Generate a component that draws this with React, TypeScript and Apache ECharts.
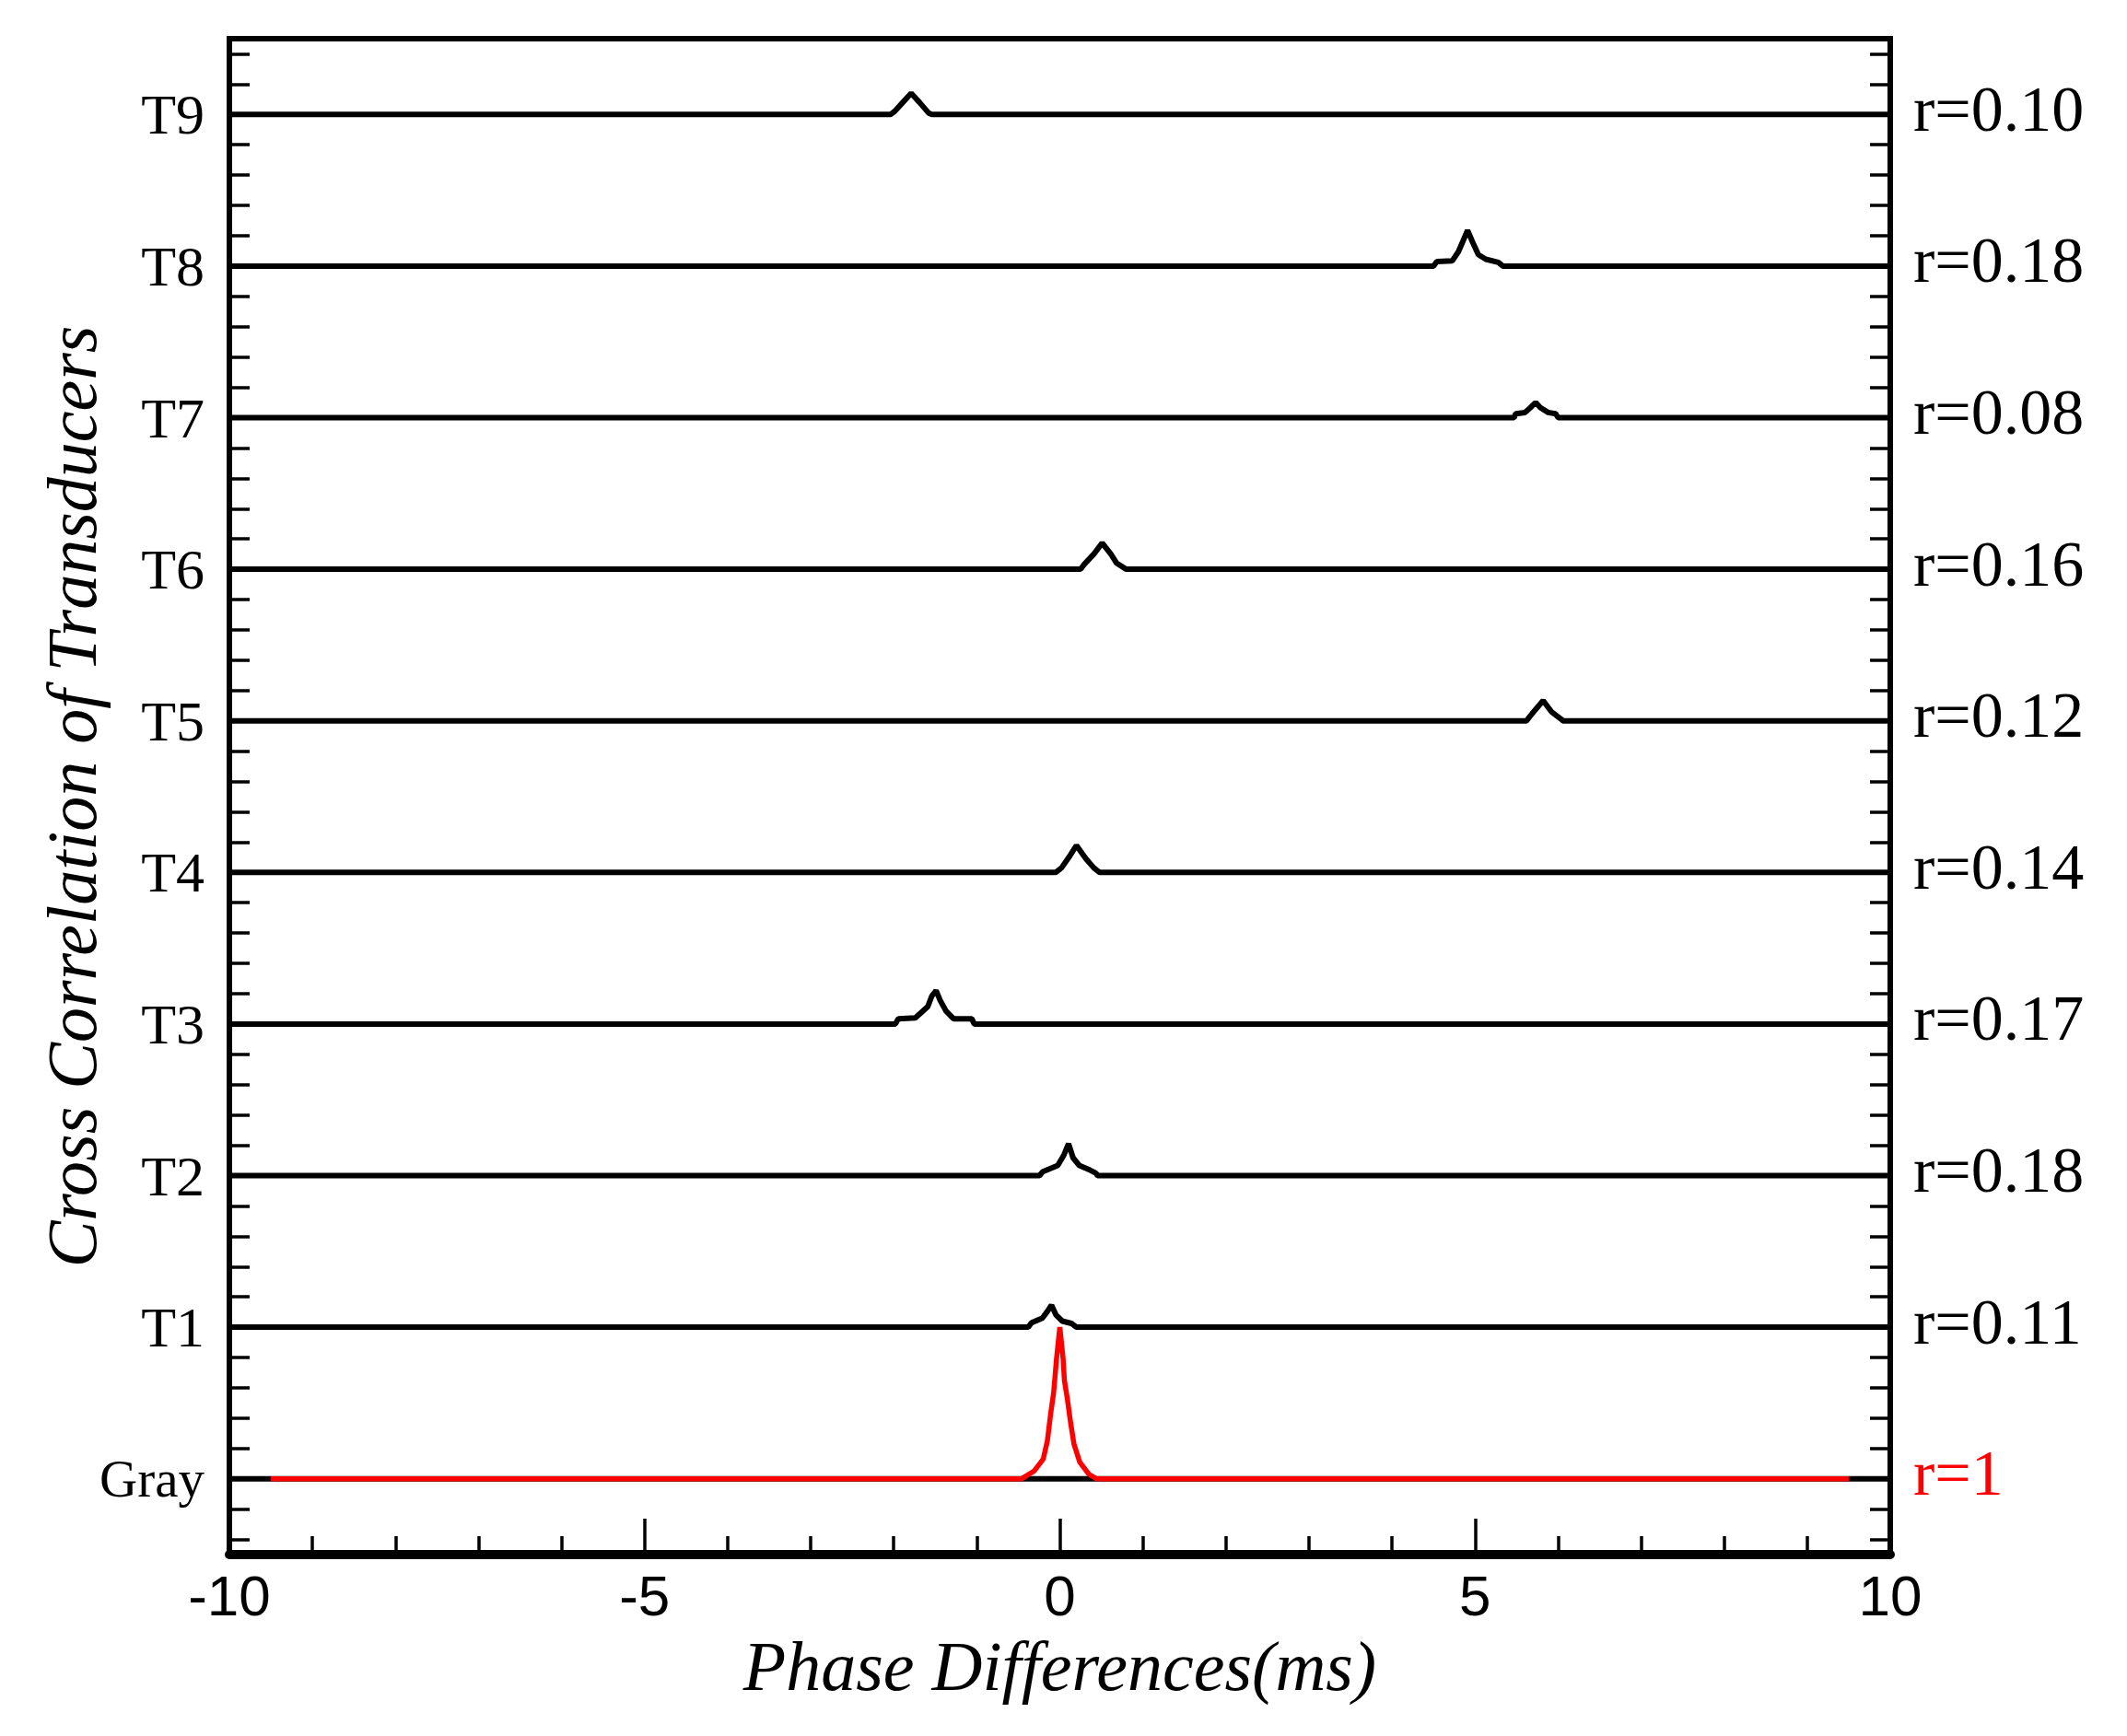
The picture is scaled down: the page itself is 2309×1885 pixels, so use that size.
import React, { useEffect, useRef } from "react";
import * as echarts from "echarts";

// Row names (bottom to top) and correlation labels
const rowLabels = ["Gray", "T1", "T2", "T3", "T4", "T5", "T6", "T7", "T8", "T9"];
const rLabels = ["r=1", "r=0.11", "r=0.18", "r=0.17", "r=0.14", "r=0.12", "r=0.16", "r=0.08", "r=0.18", "r=0.10"];
const xTickLabels = [-10, -5, 0, 5, 10];

// Peak traces: [phase difference (ms), correlation offset above the row baseline]
const grayRed: [number, number][] = [
  [-9.5, 0], [-0.46, 0], [-0.31, 0.05], [-0.2, 0.13], [-0.15, 0.25], [-0.11, 0.43], [-0.074, 0.57],
  [-0.04, 0.79], [0, 1.0], [0.04, 0.79], [0.055, 0.65], [0.09, 0.53], [0.13, 0.37], [0.17, 0.23],
  [0.24, 0.11], [0.35, 0.03], [0.44, 0], [9.5, 0],
];
const grayBase: [number, number][] = [[-10, 0], [10, 0]];
const t1: [number, number][] = [
  [-10, 0], [-0.38, 0], [-0.34, 0.03], [-0.21, 0.06], [-0.155, 0.1], [-0.1, 0.145], [-0.045, 0.08],
  [0.03, 0.04], [0.14, 0.025], [0.2, 0], [10, 0],
];
const t2: [number, number][] = [
  [-10, 0], [-0.245, 0], [-0.205, 0.026], [-0.025, 0.067], [0.05, 0.137], [0.105, 0.21], [0.16, 0.117],
  [0.235, 0.067], [0.365, 0.036], [0.435, 0.016], [0.455, 0], [10, 0],
];
const t3: [number, number][] = [
  [-10, 0], [-1.98, 0], [-1.945, 0.035], [-1.74, 0.04], [-1.59, 0.115], [-1.54, 0.186], [-1.49, 0.22],
  [-1.44, 0.155], [-1.37, 0.085], [-1.28, 0.035], [-1.06, 0.035], [-1.03, 0], [10, 0],
];
const t4: [number, number][] = [
  [-10, 0], [-0.05, 0], [0.02, 0.03], [0.11, 0.1], [0.2, 0.178], [0.315, 0.09], [0.41, 0.03], [0.48, 0], [10, 0],
];
const t5: [number, number][] = [
  [-10, 0], [5.62, 0], [5.69, 0.05], [5.82, 0.133], [5.92, 0.06], [6.04, 0.01], [6.06, 0], [10, 0],
];
const t6: [number, number][] = [
  [-10, 0], [0.25, 0], [0.29, 0.03], [0.41, 0.1], [0.51, 0.173], [0.615, 0.1], [0.685, 0.04], [0.8, 0], [10, 0],
];
const t7: [number, number][] = [
  [-10, 0], [5.47, 0], [5.49, 0.026], [5.6, 0.034], [5.675, 0.07], [5.73, 0.1], [5.785, 0.067],
  [5.88, 0.034], [5.97, 0.026], [6.0, 0], [10, 0],
];
const t8: [number, number][] = [
  [-10, 0], [4.5, 0], [4.54, 0.03], [4.725, 0.034], [4.8, 0.095], [4.855, 0.165], [4.91, 0.236],
  [4.965, 0.165], [5.04, 0.075], [5.13, 0.045], [5.28, 0.024], [5.335, 0], [10, 0],
];
const t9: [number, number][] = [
  [-10, 0], [-2.04, 0], [-1.99, 0.02], [-1.89, 0.08], [-1.79, 0.14], [-1.69, 0.08], [-1.58, 0.01], [-1.54, 0], [10, 0],
];
const blackRows = [grayBase, t1, t2, t3, t4, t5, t6, t7, t8, t9];

const SERIF = "'Liberation Serif', 'Times New Roman', serif";
const SANS = "'Liberation Sans', Arial, sans-serif";

export default function App() {
  const ref = useRef<HTMLDivElement>(null);
  useEffect(() => {
    document.body.style.margin = "0";
    if (!ref.current) return;
    const chart = echarts.init(ref.current, null, { renderer: "svg" });

    const yTicks: number[] = [];
    for (let k = -2; k <= 47; k++) yTicks.push(Math.round(k * 2) / 10);
    const rowValues = rowLabels.map((_, i) => i);

    const series: any[] = blackRows.map((pts, i) => ({
      type: "line",
      name: rowLabels[i],
      data: pts.map(([x, v]) => [x, i + v]),
      symbol: "none",
      lineStyle: { color: "#000", width: 6 },
      z: 3,
    }));
    series.push({
      type: "line",
      name: "Gray-r",
      data: grayRed.map(([x, v]) => [x, v]),
      symbol: "none",
      lineStyle: { color: "#ff0000", width: 5.5 },
      z: 4,
    });

    const option: any = {
      animation: false,
      backgroundColor: "#fff",
      grid: {
        left: 249,
        right: 257,
        top: 42,
        bottom: 197,
        show: true,
        borderColor: "#000",
        borderWidth: 6,
        containLabel: false,
        outerBoundsMode: "none",
      },
      xAxis: {
        type: "value",
        min: -10,
        max: 10,
        interval: 5,
        position: "bottom",
        splitLine: { show: false },
        axisLine: { show: true, onZero: false, lineStyle: { color: "#000", width: 10 } },
        axisTick: { show: true, inside: true, length: 39, lineStyle: { color: "#000", width: 3.5 } },
        minorTick: { show: true, splitNumber: 5, length: 20, lineStyle: { color: "#000", width: 3.5 } },
        axisLabel: {
          color: "#000",
          fontFamily: SANS,
          fontSize: 62,
          lineHeight: 46,
          margin: 21,
          formatter: (v: number) => (xTickLabels.includes(v) ? String(v) : ""),
        },
        name: "Phase Differences(ms)",
        nameLocation: "middle",
        nameGap: 89,
        nameMoveOverlap: false,
        nameTextStyle: { color: "#000", fontFamily: SERIF, fontStyle: "italic", fontSize: 76, lineHeight: 64 },
      },
      yAxis: [
        {
          type: "value",
          min: -0.5,
          max: 9.5,
          position: "left",
          splitLine: { show: false },
          axisLine: { show: true, onZero: false, lineStyle: { color: "#000", width: 6 } },
          axisTick: { show: true, inside: true, length: 22, customValues: yTicks, lineStyle: { color: "#000", width: 3.5 } },
          axisLabel: {
            customValues: rowValues,
            color: "#000",
            fontFamily: SERIF,
            fontSize: 62,
            margin: 27,
            formatter: (v: number) => {
              const i = Math.round(v);
              return i === 0 ? "{g|" + rowLabels[0] + "}" : rowLabels[i];
            },
            rich: { g: { fontFamily: SERIF, fontSize: 57, color: "#000" } },
          },
          name: "Cross Correlation of Transducers",
          nameLocation: "middle",
          nameGap: 133,
          nameMoveOverlap: false,
          nameTextStyle: { color: "#000", fontFamily: SERIF, fontStyle: "italic", fontSize: 76 },
        },
        {
          type: "value",
          min: -0.5,
          max: 9.5,
          position: "right",
          splitLine: { show: false },
          axisLine: { show: true, onZero: false, lineStyle: { color: "#000", width: 6 } },
          axisTick: { show: true, inside: true, length: 22, customValues: yTicks, lineStyle: { color: "#000", width: 3.5 } },
          axisLabel: {
            customValues: rowValues,
            color: "#000",
            fontFamily: SERIF,
            fontSize: 70,
            margin: 25,
            padding: [0, 0, 12, 0],
            formatter: (v: number) => {
              const i = Math.round(v);
              return i === 0 ? "{red|" + rLabels[0] + "}" : rLabels[i];
            },
            rich: { red: { fontFamily: SERIF, fontSize: 70, color: "#ff0000" } },
          },
        },
      ],
      series,
    };
    chart.setOption(option);
    return () => chart.dispose();
  }, []);
  return <div ref={ref} style={{ width: 2309, height: 1885 }} />;
}
